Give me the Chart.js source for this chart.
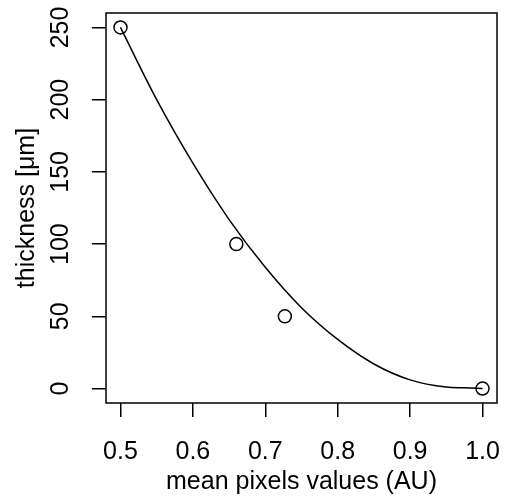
<!DOCTYPE html>
<html>
<head>
<meta charset="utf-8">
<script src="https://cdn.jsdelivr.net/npm/chart.js@4.4.1/dist/chart.umd.min.js"></script>
<style>
  html, body { margin: 0; padding: 0; background: #fff; }
  #wrap { width: 505px; height: 502px; }
</style>
</head>
<body>
<div id="wrap"><canvas id="thick"></canvas></div>
<script>
// measured points
var pixelMeans = [0.5, 0.66, 0.727, 1.0];
var thickness = [250, 100, 50, 0];

// fitted curve
var fitX = [0.5, 0.55, 0.6, 0.65, 0.7, 0.75, 0.8, 0.85, 0.9, 0.95, 0.975, 1.0];
var fitY = [250, 200, 156, 117, 84, 56, 34, 17, 6, 1, 0.5, 0];

var xTicks = [0.5, 0.6, 0.7, 0.8, 0.9, 1.0];
var yTicks = [0, 50, 100, 150, 200, 250];

var pts = [];
for (var i in pixelMeans) {
	pts.push({x: pixelMeans[i], y: thickness[i]});
}
var curve = [];
for (var j in fitX) {
	curve.push({x: fitX[j], y: fitY[j]});
}

var font = {family: "'Liberation Sans', Arial, sans-serif", size: 25};

// R style box round the plot region
var boxPlugin = {
	id: 'box',
	afterDraw: function(chart) {
		var a = chart.chartArea, ctx = chart.ctx;
		ctx.save();
		ctx.strokeStyle = '#000';
		ctx.lineWidth = 1.5;
		ctx.strokeRect(a.left, a.top, a.right - a.left, a.bottom - a.top);
		ctx.restore();
	}
};

new Chart(document.getElementById('thick'), {
	type: 'scatter',
	data: {
		datasets: [
			{
				label: 'points',
				data: pts,
				pointRadius: 6.5,
				pointHoverRadius: 6.5,
				pointBorderWidth: 1.5,
				borderColor: '#000',
				backgroundColor: 'rgba(0,0,0,0)',
				showLine: false,
				order: 0
			},
			{
				label: 'fit',
				data: curve,
				showLine: true,
				pointRadius: 0,
				borderColor: '#000',
				borderWidth: 1.5,
				cubicInterpolationMode: 'monotone',
				fill: false,
				order: 1
			}
		]
	},
	options: {
		responsive: true,
		maintainAspectRatio: false,
		animation: false,
		layout: {padding: {top: 13, right: 7, left: 0, bottom: 0}},
		plugins: {legend: {display: false}, tooltip: {enabled: false}},
		scales: {
			x: {
				type: 'linear',
				min: 0.48,
				max: 1.02,
				afterFit: function(s) { s.height = 99; s.paddingLeft = 0; s.paddingRight = 0; },
				afterBuildTicks: function(s) { s.ticks = xTicks.map(function(v) { return {value: v}; }); },
				grid: {drawOnChartArea: false, tickLength: 14, color: '#000', lineWidth: 1.5},
				border: {display: false},
				ticks: {
					color: '#000', font: font, padding: 20, maxRotation: 0, autoSkip: false,
					callback: function(v) { return v.toFixed(1); }
				},
				title: {display: true, text: 'mean pixels values (AU)', color: '#000', font: font, padding: {top: 0, bottom: 5}}
			},
			y: {
				type: 'linear',
				min: -10,
				max: 260,
				afterFit: function(s) { s.width = 106; s.paddingTop = 0; s.paddingBottom = 0; },
				afterBuildTicks: function(s) { s.ticks = yTicks.map(function(v) { return {value: v}; }); },
				grid: {drawOnChartArea: false, tickLength: 14, color: '#000', lineWidth: 1.5},
				border: {display: false},
				ticks: {
					color: '#000', font: font, padding: 10, minRotation: 90, maxRotation: 90,
					crossAlign: 'center', autoSkip: false
				},
				title: {display: true, text: 'thickness [μm]', color: '#000', font: font, padding: {top: 12, bottom: 0}}
			}
		}
	},
	plugins: [boxPlugin]
});
</script>
</body>
</html>
